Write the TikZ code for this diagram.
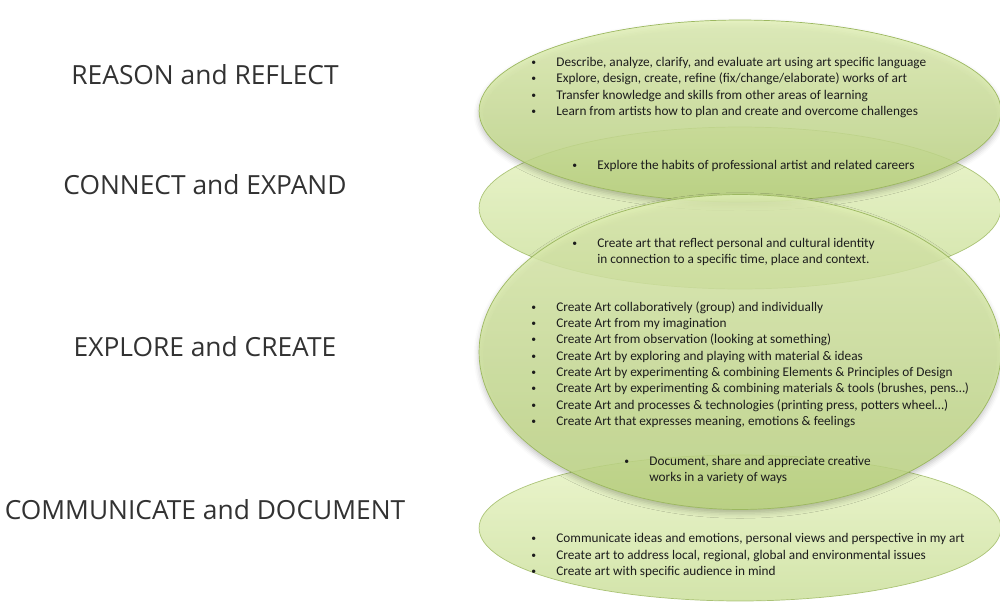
\documentclass[tikz,border=0pt]{standalone}
\usepackage{fontspec}
\setmainfont{Carlito}
\newfontfamily\headfont{Open Sans}
\usetikzlibrary{shapes.geometric, shadows.blur}

\definecolor{leafhi}{RGB}{226,241,182}
\definecolor{leaflo}{RGB}{190,215,130}
\definecolor{leafedge}{RGB}{156,184,96}
\definecolor{inktext}{RGB}{28,28,28}
\definecolor{headgray}{RGB}{50,50,50}

\tikzset{
    layer/.style={ellipse, draw=leafedge, line width=0.4pt, top color=leafhi, bottom color=leaflo, inner sep=0pt, minimum width=10.44cm},
    backlayer/.style={layer, fill opacity=0.68, draw opacity=0.8},
    frontlayer/.style={layer, fill opacity=0.82, blur shadow={shadow xshift=0pt, shadow yshift=-2pt, shadow blur radius=3pt, shadow opacity=30}},
    heading/.style={font=\headfont\fontsize{15}{18}\selectfont, text=headgray},
    points/.style={anchor=west, align=left, font=\fontsize{7.55}{9.3}\selectfont, text=inktext, inner sep=0pt},
}
\newcommand{\bul}[1]{\makebox[0.5cm][l]{\raisebox{0.15ex}{\fontsize{5.5}{5.5}\selectfont\textbullet}}#1}

\begin{document}
\begin{tikzpicture}[x=0.02cm,y=-0.02cm]
    \useasboundingbox (0,0) rectangle (1000,605);
    % layers, back ones first
    \node[backlayer, minimum height=3.24cm] (connect) at (740,208) {};
    \node[backlayer, minimum height=2.92cm] (communicate) at (740,528) {};
    \node[frontlayer, minimum height=3.64cm] (reason) at (740,111) {};
    \node[frontlayer, minimum height=6.3cm] (explore) at (740,352) {};
    % headings
    \node[heading] (reasonlabel) at (205,75) {REASON and REFLECT};
    \node[heading] (connectlabel) at (205,185) {CONNECT and EXPAND};
    \node[heading] (explorelabel) at (205,347) {EXPLORE and CREATE};
    \node[heading] (communicatelabel) at (205,510) {COMMUNICATE and DOCUMENT};
    % bullet texts
    \node[points] (reasontext) at (531,87.5) {%
        \bul{Describe, analyze, clarify, and evaluate art using art specific language}\\
        \bul{Explore, design, create, refine (fix/change/elaborate) works of art}\\
        \bul{Transfer knowledge and skills from other areas of learning}\\
        \bul{Learn from artists how to plan and create and overcome challenges}};
    \node[points] (connecttext) at (572,166) {%
        \bul{Explore the habits of professional artist and related careers}};
    \node[points] (identitytext) at (572,252) {%
        \bul{Create art that reflect personal and cultural identity}\\
        \hspace*{0.5cm}in connection to a specific time, place and context.};
    \node[points] (exploretext) at (531,364.5) {%
        \bul{Create Art collaboratively (group) and individually}\\
        \bul{Create Art from my imagination}\\
        \bul{Create Art from observation (looking at something)}\\
        \bul{Create Art by exploring and playing with material \& ideas}\\
        \bul{Create Art by experimenting \& combining Elements \& Principles of Design}\\
        \bul{Create Art by experimenting \& combining materials \& tools (brushes, pens\dots)}\\
        \bul{Create Art and processes \& technologies (printing press, potters wheel\dots)}\\
        \bul{Create Art that expresses meaning, emotions \& feelings}};
    \node[points] (sharetext) at (624,470) {%
        \bul{Document, share and appreciate creative}\\
        \hspace*{0.5cm}works in a variety of ways};
    \node[points] (communicatetext) at (531,555.5) {%
        \bul{Communicate ideas and emotions, personal views and perspective in my art}\\
        \bul{Create art to address local, regional, global and environmental issues}\\
        \bul{Create art with specific audience in mind}};
\end{tikzpicture}
\end{document}
